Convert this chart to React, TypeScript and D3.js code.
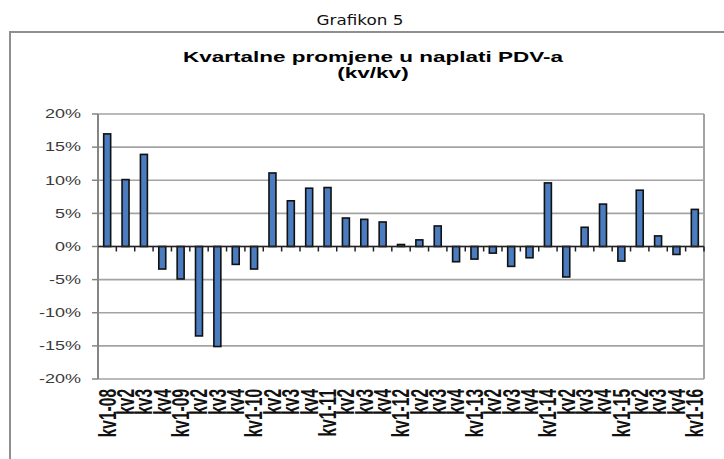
import React from "react";
import * as d3 from "d3";

const categories = [
  "kv1-08", "kv2", "kv3", "kv4",
  "kv1-09", "kv2", "kv3", "kv4",
  "kv1-10", "kv2", "kv3", "kv4",
  "kv1-11", "kv2", "kv3", "kv4",
  "kv1-12", "kv2", "kv3", "kv4",
  "kv1-13", "kv2", "kv3", "kv4",
  "kv1-14", "kv2", "kv3", "kv4",
  "kv1-15", "kv2", "kv3", "kv4",
  "kv1-16",
];

const values = [
  17.0, 10.1, 13.9, -3.4,
  -4.9, -13.5, -15.1, -2.7,
  -3.4, 11.1, 6.9, 8.8,
  8.9, 4.3, 4.1, 3.7,
  0.3, 1.0, 3.1, -2.3,
  -1.9, -1.0, -3.0, -1.7,
  9.6, -4.6, 2.9, 6.4,
  -2.2, 8.5, 1.6, -1.2,
  5.6,
];

const yTicks = [-20, -15, -10, -5, 0, 5, 10, 15, 20];

const pageTitle = "Grafikon 5";
const chartTitle = ["Kvartalne promjene u naplati PDV-a", "(kv/kv)"];

const W = 724;
const H = 459;
const plot = { left: 98, right: 704, top: 114, bottom: 379 };
const SX = 1.5; // horizontal text stretch

export default function App() {
  const idx = categories.map((_, i) => i);
  const x = d3
    .scaleBand<number>()
    .domain(idx)
    .range([plot.left, plot.right])
    .paddingInner(0.62)
    .paddingOuter(0.31);
  const y = d3.scaleLinear().domain([-20, 20]).range([plot.bottom, plot.top]);
  const step = x.step();
  const font = "'Liberation Sans', Arial, sans-serif";
  const y0 = y(0);

  return (
    <svg
      width={W}
      height={H}
      viewBox={`0 0 ${W} ${H}`}
      style={{ position: "absolute", left: 0, top: 0, background: "#fff" }}
    >
      <rect x={0} y={0} width={W} height={H} fill="#fff" />
      <text
        transform={`translate(360,25) scale(1.2,1)`}
        textAnchor="middle"
        fontFamily="'DejaVu Sans', Verdana, sans-serif"
        fontSize={14}
        fill="#111"
      >
        {pageTitle}
      </text>
      <path d={`M10,${H + 5} L10,32 L${W + 5},32`} fill="none" stroke="#8f8f8f" strokeWidth={2} />

      {chartTitle.map((t, i) => (
        <text
          key={i}
          transform={`translate(373,${62 + i * 16}) scale(${SX},1)`}
          textAnchor="middle"
          fontFamily={font}
          fontWeight="bold"
          fontSize={15}
          fill="#000"
        >
          {t}
        </text>
      ))}

      {/* gridlines */}
      {yTicks.map((t) => (
        <line
          key={t}
          x1={plot.left}
          x2={plot.right}
          y1={y(t)}
          y2={y(t)}
          stroke="#a3a3a3"
          strokeWidth={1.6}
        />
      ))}
      <line x1={plot.right} x2={plot.right} y1={plot.top} y2={plot.bottom} stroke="#a3a3a3" strokeWidth={2} />
      {/* y axis */}
      <line x1={plot.left} x2={plot.left} y1={plot.top} y2={plot.bottom} stroke="#858585" strokeWidth={2} />
      {yTicks.map((t) => (
        <g key={"yt" + t}>
          <line x1={plot.left - 6} x2={plot.left} y1={y(t)} y2={y(t)} stroke="#858585" strokeWidth={1.5} />
          <text
            transform={`translate(81,${y(t) + 4.3}) scale(${SX},1)`}
            textAnchor="end"
            fontFamily={font}
            fontSize={12}
            fill="#3a3a3a"
          >
            {`${t}%`}
          </text>
        </g>
      ))}

      {/* bars */}
      {values.map((v, i) => (
        <rect
          key={i}
          x={x(i)!}
          width={x.bandwidth()}
          y={Math.min(y(v), y0)}
          height={Math.abs(y(v) - y0)}
          fill="#4a7cbf"
          stroke="#111"
          strokeWidth={1.6}
        />
      ))}

      {/* zero axis */}
      <line x1={plot.left} x2={plot.right} y1={y0} y2={y0} stroke="#222" strokeWidth={1.4} />
      {d3.range(1, categories.length + 1).map((i) => (
        <line
          key={"xt" + i}
          x1={plot.left + i * step}
          x2={plot.left + i * step}
          y1={y0}
          y2={y0 + 5}
          stroke="#222"
          strokeWidth={1.5}
        />
      ))}

      {/* x labels */}
      {categories.map((c, i) => (
        <text
          key={"xl" + i}
          transform={`translate(${x(i)! + x.bandwidth() / 2},389) scale(${SX},1) rotate(-90)`}
          dy="0.36em"
          textAnchor="end"
          fontFamily={font}
          fontWeight="bold"
          fontSize={15.5}
          fill="#111"
        >
          {c}
        </text>
      ))}
    </svg>
  );
}
